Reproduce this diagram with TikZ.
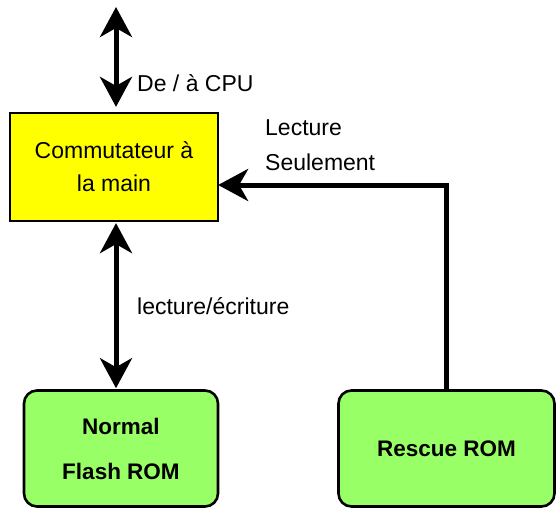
\documentclass[tikz,border=0pt]{standalone}
\usepackage{fontspec}
\setmainfont{Liberation Sans}
\usetikzlibrary{arrows.meta}
\definecolor{boxyellow}{RGB}{255,255,0}
\definecolor{romgreen}{RGB}{153,255,102}
\begin{document}
\begin{tikzpicture}[x=1pt,y=-1pt,
  lbl/.style={anchor=base west, inner sep=0pt, font=\fontsize{23}{33}\selectfont},
  swbox/.style={draw, line width=2.2pt, fill=boxyellow, minimum width=208pt, minimum height=108pt, inner sep=0pt, align=center, font=\fontsize{23}{33}\selectfont},
  rombox/.style={draw, line width=2.6pt, fill=romgreen, rounded corners=13pt, minimum width=194pt, minimum height=116pt, inner sep=0pt, align=center, font=\bfseries\fontsize{22.5}{45}\selectfont},
  conn/.style={line width=5pt, line join=miter},
  bigtip/.tip={Stealth[length=30pt, width=32pt, inset=9pt]}
]
\useasboundingbox (0,0) rectangle (560,509);
\node[swbox] (sw) at (114,167) {Commutateur à\\la main};
\node[rombox] (nf) at (121,448.5) {Normal\\Flash ROM};
\node[rombox, minimum width=216pt] (rr) at (446.5,448.5) {Rescue ROM};
\coordinate (cpu) at (116,7);
\draw[conn, bigtip-bigtip, shorten >=5pt] (cpu) -- (cpu |- sw.north);
\draw[conn, bigtip-bigtip, shorten <=1pt, shorten >=1pt] (sw.south -| cpu) -- (nf.north -| cpu);
\draw[conn, -bigtip, shorten >=-1pt] (rr.north) |- ([yshift=-18pt]sw.east);
\node[lbl] (l1) at (137,91) {De / à CPU};
\node[lbl] (l2) at (265,135) {Lecture};
\node[lbl] (l3) at (265,170) {Seulement};
\node[lbl] (l4) at (137,314) {lecture/écriture};
\end{tikzpicture}
\end{document}
